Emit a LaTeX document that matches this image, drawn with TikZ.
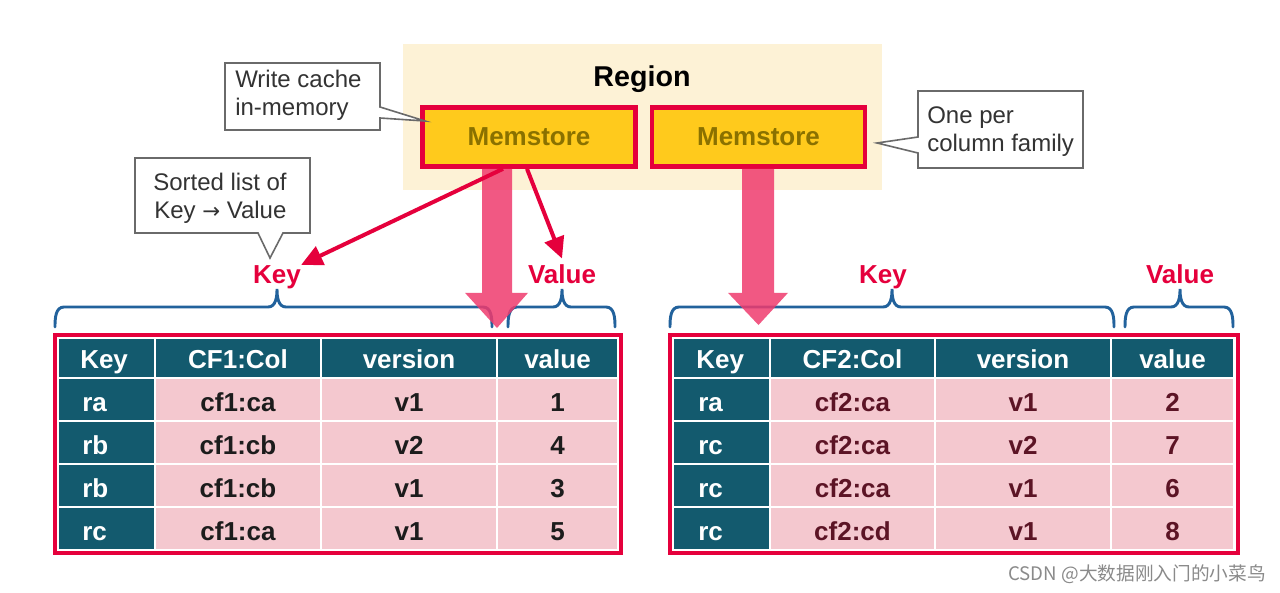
\documentclass[tikz,border=0pt]{standalone}
\usepackage{fontspec}
\setmainfont{Liberation Sans}
\newfontfamily\cjkfont{Noto Sans CJK SC}
\newfontfamily\arrowfont{DejaVu Sans}
\usetikzlibrary{arrows.meta,calc}
\definecolor{regionbg}{HTML}{FDF2D6}
\definecolor{memred}{HTML}{E5003C}
\definecolor{memyel}{HTML}{FFCA1C}
\definecolor{memtxt}{HTML}{8A7100}
\definecolor{tblteal}{HTML}{135A6E}
\definecolor{tblpink}{HTML}{F4C8CF}
\definecolor{arrpink}{HTML}{EF3B6E}
\definecolor{bracblue}{HTML}{22629C}
\definecolor{callgray}{HTML}{333333}
\definecolor{callline}{HTML}{6A6A6A}
\definecolor{bodyone}{HTML}{1C1C1C}
\definecolor{bodytwo}{HTML}{5C1425}
\definecolor{wmgray}{HTML}{8A8A8A}
\newcommand{\mybrace}[3]{%
  \draw[bracestyle] (#1,327) to[out=90,in=180] ({#1+9},307) -- ({#3-9},307)
    to[out=0,in=-90] (#3,289) to[out=-90,in=180] ({#3+9},307) -- ({#2-9},307)
    to[out=0,in=90] (#2,327);}
\tikzset{
  memstore/.style={draw=memred, line width=3.5pt, fill=memyel, minimum width=159.75pt,
    minimum height=44.25pt, inner sep=0pt, font=\bfseries\fontsize{19.5}{22}\selectfont, text=memtxt},
  callshape/.style={draw=callline, line width=1.2pt, fill=white, line join=miter},
  calltxt/.style={anchor=base west, inner sep=0pt, font=\fontsize{18}{21}\selectfont, text=callgray},
  keylabel/.style={anchor=base, inner sep=0pt, font=\bfseries\fontsize{19.5}{22}\selectfont, text=memred},
  bracestyle/.style={draw=bracblue, line width=2.2pt, line cap=round},
  redarrow/.style={draw=memred, line width=3pt, -{Triangle[length=16pt,width=15pt]}},
  bigarrow/.style={fill=arrpink, fill opacity=0.85, draw=none},
  tblframe/.style={draw=memred, line width=3pt, fill=white},
  hdrtxt/.style={inner sep=0pt, font=\bfseries\fontsize{19.5}{22}\selectfont, text=white},
  bodytxt/.style={inner sep=0pt, font=\bfseries\fontsize{19.5}{22}\selectfont},
}
\begin{document}
\begin{tikzpicture}[x=0.75pt,y=-0.75pt]
\useasboundingbox (0,0) rectangle (1280,592);
\fill[white] (0,0) rectangle (1280,592);

% Region
\fill[regionbg] (403,44) rectangle (882,190);
\node[inner sep=0pt, font=\bfseries\fontsize{21.5}{24}\selectfont, anchor=base] (region) at (642,86) {Region};
\node[memstore] (m1) at (529,137) {Memstore};
\node[memstore] (m2) at (758.5,137) {Memstore};

% Callouts
\filldraw[callshape] (225,63) -- (380,63) -- (380,107) -- (425,121) -- (380,118) -- (380,130) -- (225,130) -- cycle;
\node[calltxt] (c1a) at (235,88) {Write cache};
\node[calltxt] (c1b) at (235,115) {in-memory};

\filldraw[callshape] (135,158) -- (310,158) -- (310,233) -- (283,233) -- (270,258) -- (258,233) -- (135,233) -- cycle;
\node[calltxt] (c2a) at (153,190) {Sorted list of};
\node[calltxt] (c2b) at (154,218) {Key {\arrowfont\fontsize{16}{18}\selectfont →} Value};

\filldraw[callshape] (918,91) -- (1083,91) -- (1083,168) -- (918,168) -- (918,153) -- (877,143) -- (918,137) -- cycle;
\node[calltxt] (c3a) at (927,123) {One per};
\node[calltxt] (c3b) at (927,151) {column family};

% Labels
\node[keylabel] (k1) at (277,283) {Key};
\node[keylabel] (v1) at (562,283) {Value};
\node[keylabel] (k2) at (883,283) {Key};
\node[keylabel] (v2) at (1180,283) {Value};

% Braces
\mybrace{55}{492}{277}
\mybrace{508}{615}{562}
\mybrace{670}{1114}{892}
\mybrace{1125}{1233}{1180}

% Table 1
\draw[tblframe] (55,335) rectangle (621,553);
\fill[tblteal] (59.2,339.2) rectangle (153.8,376.8);
\node[hdrtxt, anchor=base west] (t1h0) at (80,368) {Key};
\foreach \xa/\xb/\txt [count=\j] in {155/321/CF1:Col, 321/497/version, 497/618/value} {
  \fill[tblteal] (\xa+1.2,339.2) rectangle (\xb-1.2,376.8);
  \node[hdrtxt, anchor=base] (t1h\j) at ({(\xa+\xb)/2},368) {\txt};
}
\foreach \rk/\rc/\rv/\rn [count=\i] in {ra/cf1:ca/v1/1, rb/cf1:cb/v2/4, rb/cf1:cb/v1/3, rc/cf1:ca/v1/5} {
  \pgfmathsetmacro\ya{378+43*(\i-1)}
  \pgfmathsetmacro\yb{\ya+43}
  \fill[tblteal] (59.2,\ya+1.2) rectangle (153.8,\yb-1.2);
  \fill[tblpink] (156.2,\ya+1.2) rectangle (319.8,\yb-1.2);
  \fill[tblpink] (322.2,\ya+1.2) rectangle (495.8,\yb-1.2);
  \fill[tblpink] (498.2,\ya+1.2) rectangle (616.8,\yb-1.2);
  \node[hdrtxt, anchor=base west] (t1k\i) at (82,\yb-10) {\rk};
  \node[bodytxt, text=bodyone, anchor=base] (t1c\i) at (238,\yb-10) {\rc};
  \node[bodytxt, text=bodyone, anchor=base] (t1v\i) at (409,\yb-10) {\rv};
  \node[bodytxt, text=bodyone, anchor=base] (t1n\i) at (557.5,\yb-10) {\rn};
}

% Table 2
\draw[tblframe] (670,335) rectangle (1238,553);
\fill[tblteal] (674.2,339.2) rectangle (768.8,376.8);
\node[hdrtxt, anchor=base west] (t2h0) at (696,368) {Key};
\foreach \xa/\xb/\txt [count=\j] in {770/935/CF2:Col, 935/1111/version, 1111/1234/value} {
  \fill[tblteal] (\xa+1.2,339.2) rectangle (\xb-1.2,376.8);
  \node[hdrtxt, anchor=base] (t2h\j) at ({(\xa+\xb)/2},368) {\txt};
}
\foreach \rk/\rc/\rv/\rn [count=\i] in {ra/cf2:ca/v1/2, rc/cf2:ca/v2/7, rc/cf2:ca/v1/6, rc/cf2:cd/v1/8} {
  \pgfmathsetmacro\ya{378+43*(\i-1)}
  \pgfmathsetmacro\yb{\ya+43}
  \fill[tblteal] (674.2,\ya+1.2) rectangle (768.8,\yb-1.2);
  \fill[tblpink] (771.2,\ya+1.2) rectangle (933.8,\yb-1.2);
  \fill[tblpink] (936.2,\ya+1.2) rectangle (1109.8,\yb-1.2);
  \fill[tblpink] (1112.2,\ya+1.2) rectangle (1232.8,\yb-1.2);
  \node[hdrtxt, anchor=base west] (t2k\i) at (698,\yb-10) {\rk};
  \node[bodytxt, text=bodytwo, anchor=base] (t2c\i) at (852.5,\yb-10) {\rc};
  \node[bodytxt, text=bodytwo, anchor=base] (t2v\i) at (1023,\yb-10) {\rv};
  \node[bodytxt, text=bodytwo, anchor=base] (t2n\i) at (1172.5,\yb-10) {\rn};
}

% Big arrows (block arrows from each memstore down to its table)
\coordinate (a1end) at (497,328);
\coordinate (a2end) at (758.5,325);
\fill[bigarrow] ($(m1.south)+(-47,0)$) -- ($(m1.south)+(-17,0)$) -- ($(m1.south)+(-17,124)$)
  -- ($(m1.south)+(-1,124)$) -- (a1end) -- ($(m1.south)+(-64,124)$) -- ($(m1.south)+(-47,124)$) -- cycle;
\fill[bigarrow] ($(m2.south)+(-16.5,0)$) -- ($(m2.south)+(15.5,0)$) -- ($(m2.south)+(15.5,124)$)
  -- ($(m2.south)+(29.5,124)$) -- (a2end) -- ($(m2.south)+(-30.5,124)$) -- ($(m2.south)+(-16.5,124)$) -- cycle;

% Red arrows
\draw[redarrow] ([xshift=-19.5pt]m1.south) -- (k1.north east);
\draw[redarrow] ([xshift=-1.5pt]m1.south) -- ([yshift=4pt]v1.north);

% Watermark
\node[inner sep=0pt, font=\cjkfont\fontsize{14}{16}\selectfont, text=wmgray] (wm) at (1137,574) {CSDN @大数据刚入门的小菜鸟};
\end{tikzpicture}
\end{document}
